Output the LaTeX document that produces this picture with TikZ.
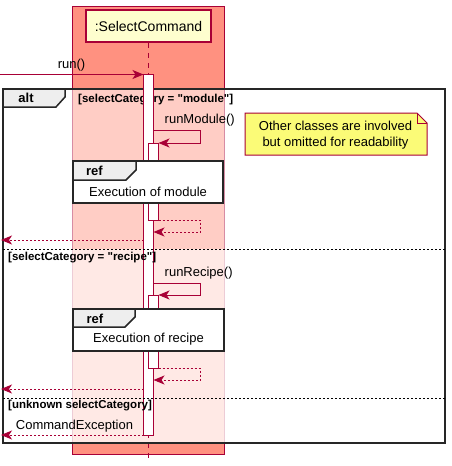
\documentclass[tikz,border=0pt]{standalone}
\usepackage{fontspec}
\setmainfont{Liberation Sans}
\usetikzlibrary{arrows.meta}
\definecolor{crim}{HTML}{A80036}
\definecolor{salmon}{HTML}{FF9180}
\definecolor{partfill}{HTML}{FEFECE}
\definecolor{notefill}{HTML}{FBFB77}
\definecolor{tabfill}{HTML}{EEEEEE}
\tikzset{
  msg/.style={draw=crim, line width=1pt, -{Stealth[length=11pt,width=9pt,inset=3pt]}},
  ret/.style={msg, dash pattern=on 2pt off 2pt},
  actbox/.style={draw=crim, fill=white, line width=1pt},
  lbl/.style={inner sep=0pt, font=\fontsize{13}{15}\selectfont},
  guard/.style={inner sep=0pt, anchor=west, font=\bfseries\fontsize{11.5}{13}\selectfont},
  tabtext/.style={inner sep=0pt, font=\bfseries\fontsize{13}{15}\selectfont},
  frameline/.style={draw=black!85, line width=1.5pt},
  sepline/.style={draw=black, line width=0.8pt, dash pattern=on 2pt off 2pt},
}
\begin{document}
\begin{tikzpicture}[x=1pt,y=-1pt]
\useasboundingbox (0,0) rectangle (452,466);
% box
\draw[draw=crim, fill=salmon, line width=1pt] (72.5,6) rectangle (224,454);
\fill[white, opacity=0.55] (71.5,89) rectangle (225,249);
\fill[white, opacity=0.80] (71.5,249) rectangle (225,443);
% participant
\node[draw=crim, fill=partfill, line width=1.5pt, minimum width=125pt, minimum height=32pt, inner sep=0pt, font=\fontsize{14}{16}\selectfont] (part) at (148.5,26) {:SelectCommand};
\coordinate (lifeend) at (148.5,458);
\draw[crim, line width=1pt, dash pattern=on 5pt off 5pt] (part.south) -- (lifeend);
% alt frame
\draw[frameline] (3,89) rectangle (445,443);
\draw[frameline, fill=tabfill] (3,89) -- (65,89) -- (65,97) -- (56,107) -- (3,107) -- cycle;
\node[tabtext] (alt) at (26,98) {alt};
\node[guard] (g1) at (78,100) {[selectCategory = \textquotedbl module\textquotedbl]};
% activations
\draw[actbox] (143.5,74) rectangle (153.5,435);
\draw[actbox] (148.5,143) rectangle (158.5,220);
\draw[actbox] (148.5,295) rectangle (158.5,368);
% run()
\coordinate (runs) at (0,74.5);
\coordinate (rune) at (143.5,74.5);
\draw[msg] (runs) -- (rune);
\node[lbl] (runl) at (71.5,65) {run()};
% runModule
\coordinate (m1s) at (153.5,130);
\coordinate (m1c) at (200,143);
\coordinate (m1e) at (158.5,143);
\draw[msg] (m1s) -| (m1c) -- (m1e);
\node[lbl, anchor=west] (m1l) at (164.5,120) {runModule()};
\coordinate (r1s) at (158.5,220);
\coordinate (r1c) at (200,232);
\coordinate (r1e) at (153.5,232);
\draw[ret] (r1s) -| (r1c) -- (r1e);
\coordinate (b1s) at (143.5,240);
\coordinate (b1e) at (1,240);
\draw[ret] (b1s) -- (b1e);
% ref 1
\draw[frameline, fill=white] (73,161) rectangle (223,203);
\draw[frameline, fill=tabfill] (73,161) -- (136,161) -- (136,170) -- (126,180) -- (73,180) -- cycle;
\node[tabtext] (ref1) at (94.5,171) {ref};
\node[lbl] (ex1) at (148,192) {Execution of module};
% note
\draw[draw=crim, fill=notefill, line width=1pt] (245,113) -- (417,113) -- (427,123) -- (427,155) -- (245,155) -- cycle;
\draw[draw=crim, line width=1pt] (417,113) -- (417,123) -- (427,123);
\node[lbl, align=center, font=\fontsize{13}{16}\selectfont] (note) at (335.5,135) {Other classes are involved\\but omitted for readability};
% separator 1
\coordinate (s1a) at (3,249);
\coordinate (s1b) at (445,249);
\draw[sepline] (s1a) -- (s1b);
\node[guard] (g2) at (8,258) {[selectCategory = \textquotedbl recipe\textquotedbl]};
% runRecipe
\coordinate (m2s) at (153.5,283);
\coordinate (m2c) at (200,295);
\coordinate (m2e) at (158.5,295);
\draw[msg] (m2s) -| (m2c) -- (m2e);
\node[lbl, anchor=west] (m2l) at (164.5,273) {runRecipe()};
\coordinate (r2s) at (158.5,368);
\coordinate (r2c) at (200,380);
\coordinate (r2e) at (153.5,380);
\draw[ret] (r2s) -| (r2c) -- (r2e);
\coordinate (b2s) at (143.5,389);
\coordinate (b2e) at (1,389);
\draw[ret] (b2s) -- (b2e);
% ref 2
\draw[frameline, fill=white] (73,309) rectangle (224,351);
\draw[frameline, fill=tabfill] (73,309) -- (135,309) -- (135,317) -- (125,327) -- (73,327) -- cycle;
\node[tabtext] (ref2) at (95,319) {ref};
\node[lbl] (ex2) at (148.5,339) {Execution of recipe};
% separator 2
\coordinate (s2a) at (3,398);
\coordinate (s2b) at (445,398);
\draw[sepline] (s2a) -- (s2b);
\node[guard] (g3) at (8,406) {[unknown selectCategory]};
\coordinate (b3s) at (143.5,435);
\coordinate (b3e) at (1,435);
\draw[ret] (b3s) -- (b3e);
\node[lbl] (cel) at (74.5,426) {CommandException};
\end{tikzpicture}
\end{document}
